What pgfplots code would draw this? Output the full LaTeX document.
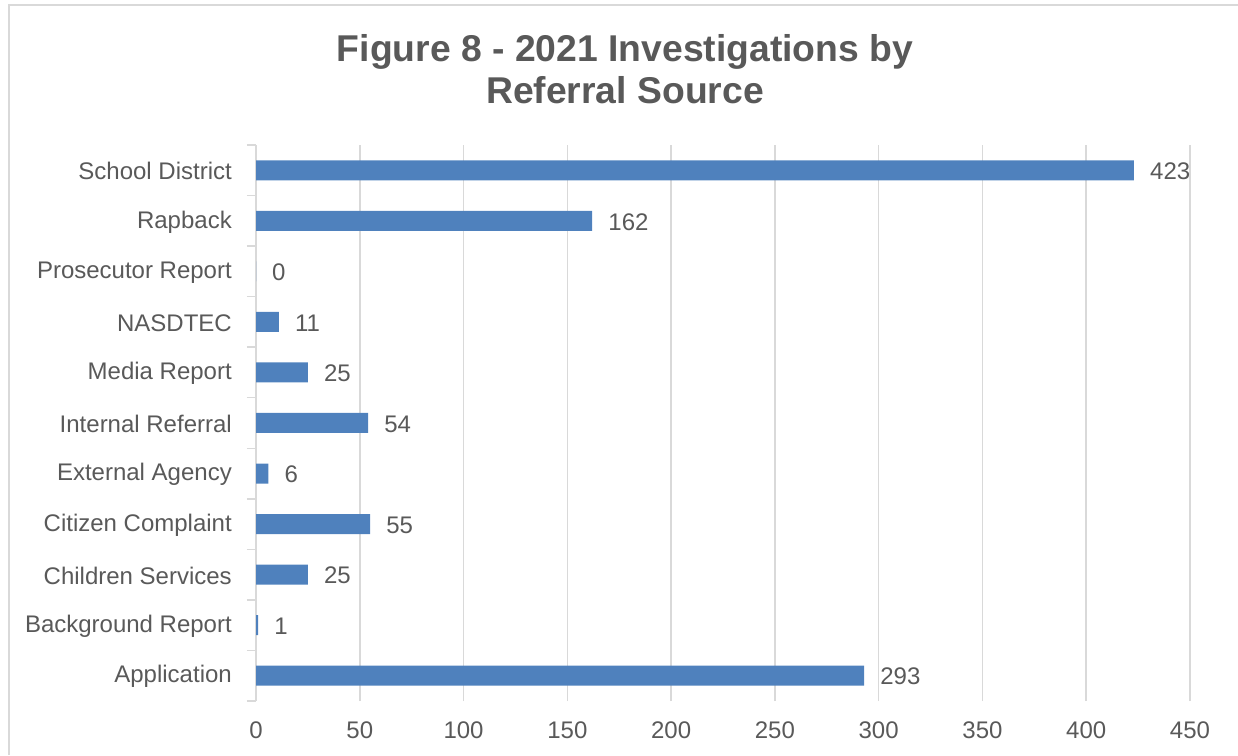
\documentclass[border=0pt]{standalone}
\usepackage{pgfplots}
\pgfplotsset{compat=1.18}
\usepackage{fontspec}
\setmainfont{Liberation Sans}
\definecolor{barblue}{RGB}{79,129,189}
\definecolor{txtgray}{RGB}{89,89,89}
\definecolor{gridgray}{RGB}{217,217,217}

\begin{document}
\begin{tikzpicture}[x=1pt,y=1pt]
\useasboundingbox (0,0) rectangle (1238,755);
% chart frame
\draw[gridgray, line width=2pt] (8.5,0) -- (8.5,749.5) -- (1240,749.5);
% title
\node[anchor=base, text=txtgray, font=\fontsize{37.3}{44}\selectfont\bfseries, inner sep=0pt]
  at (625,693) {Figure 8 - 2021 Investigations by};
\node[anchor=base, text=txtgray, font=\fontsize{37.3}{44}\selectfont\bfseries, inner sep=0pt]
  at (625,651) {Referral Source};
\begin{axis}[
    at={(256pt,54pt)}, anchor=south west,
    scale only axis,
    width=934pt, height=556pt,
    xbar, bar width=20pt,
    xmin=0, xmax=450,
    ymin=-0.5, ymax=10.5,
    xtick={0,50,...,450},
    ytick={0,...,10},
    yticklabels={Application,Background Report,Children Services,Citizen Complaint,External Agency,Internal Referral,Media Report,NASDTEC,Prosecutor Report,Rapback,School District},
    minor ytick={-0.5,0.5,...,10.5},
    major tick length=0pt,
    minor tick length=9pt,
    tick align=outside,
    tick style={gridgray, line width=1.5pt},
    xmajorgrids,
    grid style={gridgray, line width=1.5pt},
    axis x line*=bottom,
    x axis line style={draw=none},
    axis y line*=left,
    y axis line style={gridgray, line width=1.5pt, -},
    /pgf/number format/assume math mode=true,
    ticklabel style={text=txtgray, font=\fontsize{24}{28}\selectfont},
    yticklabel style={anchor=east, inner sep=0pt, xshift=-24pt, yshift=-1pt},
    xticklabel style={anchor=base, inner sep=0pt, yshift=-37pt},
    nodes near coords,
    nodes near coords style={text=txtgray, font=\fontsize{24}{28}\selectfont, anchor=west, inner sep=0pt, xshift=16pt, yshift=-1pt},
    clip=false,
]
\addplot[fill=barblue, draw=none] coordinates {
    (293,0) % Application
    (1,1)   % Background Report
    (25,2)  % Children Services
    (55,3)  % Citizen Complaint
    (6,4)   % External Agency
    (54,5)  % Internal Referral
    (25,6)  % Media Report
    (11,7)  % NASDTEC
    (0,8)   % Prosecutor Report
    (162,9) % Rapback
    (423,10) % School District
};
\end{axis}
\end{tikzpicture}
\end{document}
